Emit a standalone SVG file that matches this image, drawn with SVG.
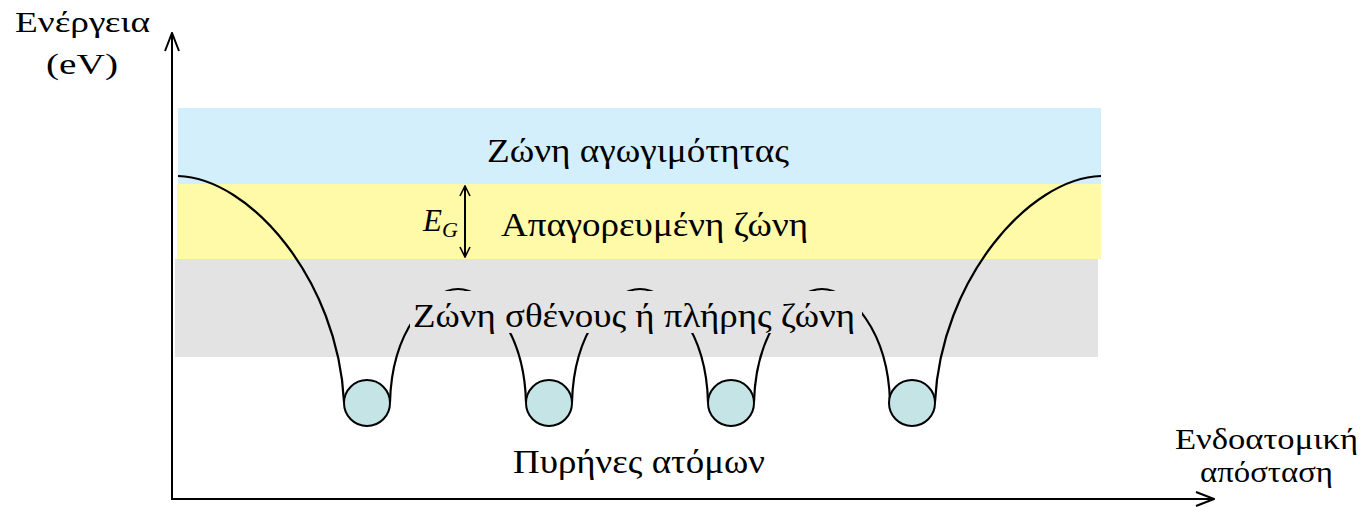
<svg xmlns="http://www.w3.org/2000/svg" width="1365" height="507" viewBox="0 0 1365 507">
<style>
text{font-family:"Liberation Serif","Times New Roman",serif;fill:#000}
.lbl{font-size:34px}
.ax{font-size:29px}
.curve{fill:none;stroke:#000;stroke-width:2.2}
.nuc{fill:#c4e4e6;stroke:#000;stroke-width:2}
.axis{fill:none;stroke:#000;stroke-width:2}
</style>
<defs>
<marker id="ah" viewBox="0 0 12 12" refX="11" refY="6" markerWidth="12" markerHeight="12" markerUnits="userSpaceOnUse" orient="auto-start-reverse">
<path d="M1,1 L11,6 L1,11" fill="none" stroke="#000" stroke-width="1.6"/>
</marker>
<marker id="ax" viewBox="0 0 20 16" refX="19" refY="8" markerWidth="20" markerHeight="16" markerUnits="userSpaceOnUse" orient="auto">
<path d="M1,1 L19,8 L1,15" fill="none" stroke="#000" stroke-width="2"/>
</marker>
</defs>
<rect width="1365" height="507" fill="#fff"/>
<g id="bands">
<rect id="conduction" x="178" y="108" width="923" height="76" fill="#d4effc"/>
<rect id="forbidden" x="177" y="184" width="924" height="75" fill="#fffaa8"/>
<rect id="valence" x="175" y="259" width="923" height="98" fill="#e3e3e3"/>
</g>
<g id="connectors">
<path class="curve" d="M178,176 C250,178 338,280 344,402"/>
<path class="curve" d="M390,402 C392,330 430,289 458,289 C486,289 524,330 526,402"/>
<path class="curve" d="M572,402 C574,330 612,289 640,289 C668,289 706,330 708,402"/>
<path class="curve" d="M754,402 C756,330 794,289 822,289 C850,289 888,330 890,402"/>
<path class="curve" d="M935,402 C941,280 1029,178 1101,176"/>
<line class="axis" x1="465" y1="186" x2="465" y2="257" stroke-width="1.6" marker-start="url(#ah)" marker-end="url(#ah)"/>
</g>
<g id="nuclei">
<circle class="nuc" cx="367" cy="403" r="23"/>
<circle class="nuc" cx="549" cy="403" r="23"/>
<circle class="nuc" cx="731" cy="403" r="23"/>
<circle class="nuc" cx="912" cy="403" r="23"/>
</g>
<g id="valence-label">
<rect x="410" y="291" width="452" height="42" fill="#e3e3e3"/>
<text class="lbl" x="413" y="327" textLength="442" lengthAdjust="spacingAndGlyphs">Ζώνη σθένους ή πλήρης ζώνη</text>
</g>
<g id="labels">
<text class="lbl" x="487" y="162" textLength="302" lengthAdjust="spacingAndGlyphs">Ζώνη αγωγιμότητας</text>
<text class="lbl" x="501" y="236" textLength="307" lengthAdjust="spacingAndGlyphs">Απαγορευμένη ζώνη</text>
<text x="423" y="231" font-size="31" font-style="italic">E<tspan font-size="22" dy="6">G</tspan></text>
<text class="lbl" x="513" y="473" textLength="252" lengthAdjust="spacingAndGlyphs">Πυρήνες ατόμων</text>
<text class="ax" x="15" y="32" textLength="135" lengthAdjust="spacingAndGlyphs">Ενέργεια</text>
<text class="ax" x="46" y="74" textLength="72" lengthAdjust="spacingAndGlyphs">(eV)</text>
<text class="ax" x="1175" y="449" textLength="183" lengthAdjust="spacingAndGlyphs">Ενδοατομική</text>
<text class="ax" x="1200" y="482" textLength="133" lengthAdjust="spacingAndGlyphs">απόσταση</text>
</g>
<g id="axes">
<path class="axis" d="M172,499 L172,33" marker-end="url(#ax)"/>
<path class="axis" d="M171,499 L1214,499" marker-end="url(#ax)"/>
</g>
</svg>
